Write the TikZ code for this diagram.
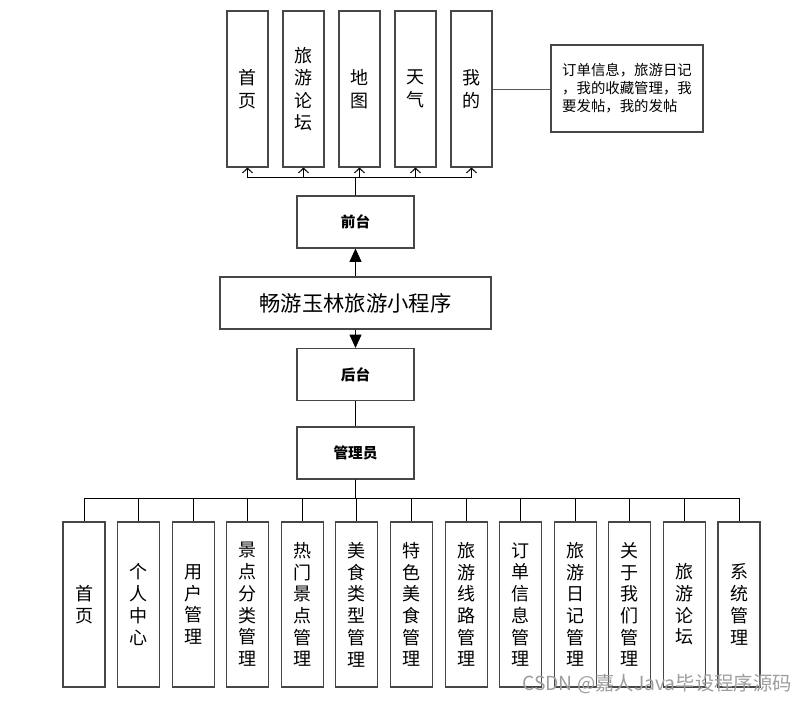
\documentclass[tikz,border=0pt]{standalone}
\usepackage{fontspec}
\setmainfont{Noto Sans CJK SC}
\usetikzlibrary{arrows.meta}
\tikzset{
	box/.style={draw=black!72, line width=0.8pt, fill=white, inner sep=0pt, align=center},
	tallbox/.style={box, minimum width=30.75pt, minimum height=117pt, font=\fontsize{13.5}{16.8}\selectfont},
	lowbox/.style={box, minimum width=31.5pt, minimum height=123.75pt, font=\fontsize{13.5}{16.3}\selectfont},
	midbox/.style={box, minimum width=87.75pt, minimum height=39pt, font=\fontsize{11}{13}\selectfont\bfseries},
	conn/.style={line width=0.75pt, black},
	openarrow/.style={conn, -{Straight Barb[length=3.5pt,width=7.5pt]}},
	fullarrow/.style={conn, -{Triangle[length=10pt,width=9pt]}}
}

\begin{document}
\begin{tikzpicture}[x=0.75pt, y=-0.75pt]
			%%%%% START %%%%%
			
			\useasboundingbox (0, 0) rectangle (807, 704);
			
			\node[tallbox] (top1) at (247.5, 89) {首\\页};
			\node[tallbox] (top2) at (303.5, 89) {旅\\游\\论\\坛};
			\node[tallbox] (top3) at (359.5, 89) {地\\图};
			\node[tallbox] (top4) at (415.5, 89) {天\\气};
			\node[tallbox] (top5) at (471.5, 89) {我\\的};
			
			\node[box, minimum width=114pt, minimum height=65.25pt, align=left, font=\fontsize{10.8}{13.5}\selectfont] (note) at (627, 88.5) {订单信息，旅游日记\\，我的收藏管理，我\\要发帖，我的发帖};
			\draw[conn, black!65] (top5.east) -- (top5.east -| note.west);
			
			\node[midbox] (front) at (355.5, 222) {前台};
			\node[box, minimum width=203.25pt, minimum height=39pt, font=\fontsize{16}{18}\selectfont] (app) at (355.5, 303) {畅游玉林旅游小程序};
			\node[midbox] (back) at (355.5, 374.5) {后台};
			\node[midbox] (admin) at (355.5, 453) {管理员};
			
			\draw[fullarrow] (app.north) -- (front.south);
			\draw[fullarrow] (app.south) -- (back.north);
			\draw[conn] (back.south) -- (admin.north);
			
			\coordinate (topbus) at (355.5, 177);
			\draw[openarrow] (front.north) -- (topbus) -| (top1.south);
			\draw[openarrow] (front.north) -- (topbus) -| (top2.south);
			\draw[openarrow] (front.north) -- (topbus) -| (top3.south);
			\draw[openarrow] (front.north) -- (topbus) -| (top4.south);
			\draw[openarrow] (front.north) -- (topbus) -| (top5.south);
			
			\node[lowbox] (low1) at (84, 604.5) {首\\页};
			\node[lowbox] (low2) at (138.6, 604.5) {个\\人\\中\\心};
			\node[lowbox] (low3) at (193.2, 604.5) {用\\户\\管\\理};
			\node[lowbox] (low4) at (247.7, 604.5) {景\\点\\分\\类\\管\\理};
			\node[lowbox] (low5) at (302.3, 604.5) {热\\门\\景\\点\\管\\理};
			\node[lowbox] (low6) at (356.9, 604.5) {美\\食\\类\\型\\管\\理};
			\node[lowbox] (low7) at (411.5, 604.5) {特\\色\\美\\食\\管\\理};
			\node[lowbox] (low8) at (466.1, 604.5) {旅\\游\\线\\路\\管\\理};
			\node[lowbox] (low9) at (520.6, 604.5) {订\\单\\信\\息\\管\\理};
			\node[lowbox] (low10) at (575.2, 604.5) {旅\\游\\日\\记\\管\\理};
			\node[lowbox] (low11) at (629.8, 604.5) {关\\于\\我\\们\\管\\理};
			\node[lowbox] (low12) at (684.4, 604.5) {旅\\游\\论\\坛};
			\node[lowbox] (low13) at (739, 604.5) {系\\统\\管\\理};
			
			\coordinate (lowbus) at (355.5, 498);
			\draw[conn] (admin.south) -- (lowbus) -| (low1.north);
			\draw[conn] (admin.south) -- (lowbus) -| (low2.north);
			\draw[conn] (admin.south) -- (lowbus) -| (low3.north);
			\draw[conn] (admin.south) -- (lowbus) -| (low4.north);
			\draw[conn] (admin.south) -- (lowbus) -| (low5.north);
			\draw[conn] (admin.south) -- (lowbus) -| (low6.north);
			\draw[conn] (admin.south) -- (lowbus) -| (low7.north);
			\draw[conn] (admin.south) -- (lowbus) -| (low8.north);
			\draw[conn] (admin.south) -- (lowbus) -| (low9.north);
			\draw[conn] (admin.south) -- (lowbus) -| (low10.north);
			\draw[conn] (admin.south) -- (lowbus) -| (low11.north);
			\draw[conn] (admin.south) -- (lowbus) -| (low12.north);
			\draw[conn] (admin.south) -- (lowbus) -| (low13.north);
			
			\node[text=black!38, font=\fontsize{14.5}{16}\selectfont] (mark) at (657, 684) {CSDN @嘉人Java毕设程序源码};
			
			%%%%% END %%%%%
		\end{tikzpicture}
\end{document}
